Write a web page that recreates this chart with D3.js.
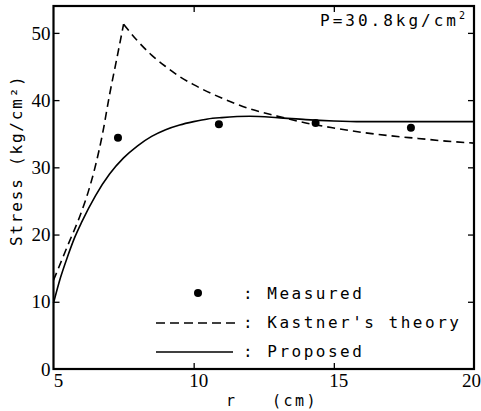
<!DOCTYPE html>
<html>
<head>
<meta charset="utf-8">
<script src="https://cdn.jsdelivr.net/npm/d3@7"></script>
<style>
  body { margin: 0; background: #fff; }
  svg { display: block; }
  .mono { font-family: "DejaVu Sans Mono", monospace; fill: #000; }
  .num { font-family: "Liberation Serif", serif; fill: #000; }
</style>
</head>
<body>
<svg width="481" height="411"></svg>
<script>
// Data
const xTicks = [5, 10, 15, 20];
const yTicks = [0, 10, 20, 30, 40, 50];

const measuredR = [7.3, 10.9, 14.35, 17.75];
const measuredStress = [34.4, 36.4, 36.6, 35.9];

// Kastner's theory: plastic rise up to the peak, then elastic decay
const kastnerR = [5, 5.5, 6, 6.25, 6.5, 6.75, 7, 7.25, 7.5,
  8, 8.5, 9, 9.5, 10, 11, 12, 13, 14, 15, 16, 17, 18, 19, 20];
const kastnerStress = [13.2, 18.3, 23.4, 26.5, 30.3, 35.0, 40.8, 46.0, 51.3,
  48.8, 46.7, 45.0, 43.5, 42.3, 40.3, 38.7, 37.6, 36.6, 35.85, 35.2, 34.7, 34.3, 33.9, 33.6];

const proposedR = [5, 5.25, 5.5, 5.75, 6, 6.5, 7, 7.5, 8, 8.5, 9, 9.5,
  10, 10.5, 11, 12, 13, 14, 15, 16, 18, 20];
const proposedStress = [9.8, 13.6, 16.7, 19.5, 21.8, 25.8, 29.0, 31.4, 33.2, 34.6, 35.6, 36.3,
  36.8, 37.2, 37.4, 37.6, 37.4, 37.1, 36.9, 36.8, 36.8, 36.8];

const legendLabels = ["Measured", "Kastner's theory", "Proposed"];

const svg = d3.select("svg");

// Plot frame
const frame = { left: 53.5, right: 474, top: 6, bottom: 369 };

const x = d3.scaleLinear().domain([5, 20]).range([frame.left, frame.right]);
const y = d3.scaleLinear().domain([0, 54]).range([frame.bottom, frame.top]);

// Inward ticks on all four sides
svg.append("g")
  .attr("transform", `translate(0,${frame.bottom})`)
  .call(d3.axisTop(x).tickValues(xTicks.slice(1, -1)).tickSize(6).tickFormat(""))
  .call(g => g.select(".domain").remove())
  .selectAll("line").attr("stroke-width", 1.3);
svg.append("g")
  .attr("transform", `translate(0,${frame.top})`)
  .call(d3.axisBottom(x).tickValues(xTicks.slice(1, -1)).tickSize(6).tickFormat(""))
  .call(g => g.select(".domain").remove())
  .selectAll("line").attr("stroke-width", 1.3);
svg.append("g")
  .attr("transform", `translate(${frame.left},0)`)
  .call(d3.axisRight(y).tickValues(yTicks.slice(1)).tickSize(6).tickFormat(""))
  .call(g => g.select(".domain").remove())
  .selectAll("line").attr("stroke-width", 1.3);
svg.append("g")
  .attr("transform", `translate(${frame.right},0)`)
  .call(d3.axisLeft(y).tickValues(yTicks.slice(1)).tickSize(6).tickFormat(""))
  .call(g => g.select(".domain").remove())
  .selectAll("line").attr("stroke-width", 1.3);

svg.append("rect")
  .attr("x", frame.left).attr("y", frame.top)
  .attr("width", frame.right - frame.left).attr("height", frame.bottom - frame.top)
  .attr("fill", "none").attr("stroke", "#000").attr("stroke-width", 2.2);

// Tick labels
svg.append("g").selectAll("text")
  .data(yTicks)
  .join("text")
  .attr("class", "num")
  .attr("x", frame.left - 3)
  .attr("y", d => y(d))
  .attr("dy", "0.35em")
  .attr("text-anchor", "end")
  .style("font-size", "19px")
  .text(d => d);

const lastX = xTicks[xTicks.length - 1];
svg.append("g").selectAll("text")
  .data(xTicks)
  .join("text")
  .attr("class", "num")
  .attr("x", d => d === lastX ? 481 : x(d) + 5)
  .attr("y", 387)
  .attr("text-anchor", d => d === lastX ? "end" : "middle")
  .style("font-size", "19px")
  .text(d => d);

// Axis titles
svg.append("text")
  .attr("class", "mono")
  .attr("x", 226)
  .attr("y", 406)
  .style("font-size", "15px")
  .text("r");
svg.append("text")
  .attr("class", "mono")
  .attr("x", 272)
  .attr("y", 406)
  .style("font-size", "15px")
  .style("letter-spacing", "2.5px")
  .text("(cm)");

svg.append("text")
  .attr("class", "mono")
  .attr("transform", "translate(22,246) rotate(-90)")
  .style("font-size", "16px")
  .style("letter-spacing", "1.8px")
  .text("Stress  (kg/cm²)");

// Curves
const line = d3.line()
  .x(d => x(d[0]))
  .y(d => y(d[1]))
  .curve(d3.curveMonotoneX);

const kastner = kastnerR.map((r, i) => [r, kastnerStress[i]]);
const peak = d3.maxIndex(kastnerStress);
const kastnerParts = [kastner.slice(0, peak + 1), kastner.slice(peak)];

svg.append("g").selectAll("path")
  .data(kastnerParts)
  .join("path")
  .attr("d", line)
  .attr("fill", "none")
  .attr("stroke", "#000")
  .attr("stroke-width", 1.6)
  .attr("stroke-dasharray", "8,5");

svg.append("path")
  .datum(proposedR.map((r, i) => [r, proposedStress[i]]))
  .attr("d", line)
  .attr("fill", "none")
  .attr("stroke", "#000")
  .attr("stroke-width", 1.6);

svg.append("g").selectAll("circle")
  .data(measuredR)
  .join("circle")
  .attr("cx", d => x(d))
  .attr("cy", (d, i) => y(measuredStress[i]))
  .attr("r", 4)
  .attr("fill", "#000");

// Pressure note
const note = svg.append("text")
  .attr("class", "mono")
  .attr("x", 320)
  .attr("y", 26)
  .style("font-size", "16px")
  .style("letter-spacing", "3px");
note.append("tspan").text("P=30.8kg/cm");
note.append("tspan").attr("dy", -7).style("font-size", "10px").text("2");

// Legend
const legend = svg.append("g");
const rowY = [294, 323, 352];
legend.append("circle").attr("cx", 198).attr("cy", rowY[0] - 1).attr("r", 4).attr("fill", "#000");
legend.append("line")
  .attr("x1", 156).attr("x2", 240).attr("y1", rowY[1]).attr("y2", rowY[1])
  .attr("stroke", "#000").attr("stroke-width", 1.6).attr("stroke-dasharray", "9,5");
legend.append("line")
  .attr("x1", 156).attr("x2", 233).attr("y1", rowY[2]).attr("y2", rowY[2])
  .attr("stroke", "#000").attr("stroke-width", 1.6);
legend.selectAll("text.lab")
  .data(legendLabels)
  .join("text")
  .attr("class", "mono lab")
  .attr("x", 243)
  .attr("y", (d, i) => rowY[i] + 5)
  .style("font-size", "16px")
  .style("letter-spacing", "2.5px")
  .text(d => ": " + d);
</script>
</body>
</html>
